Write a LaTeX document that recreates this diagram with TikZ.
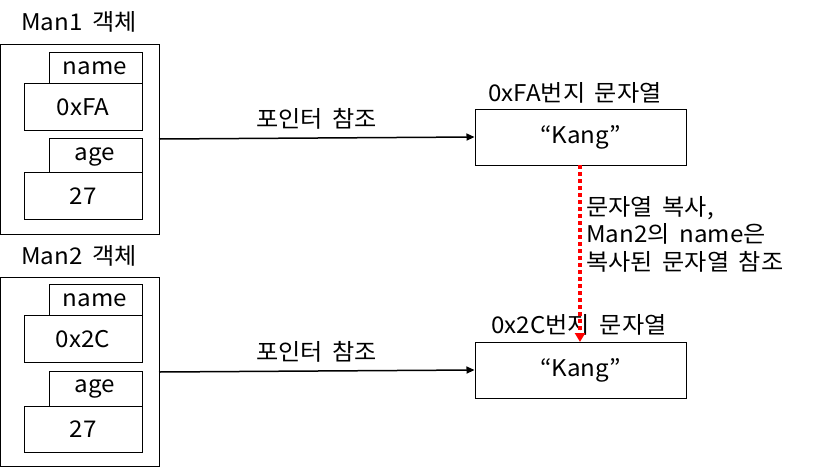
\documentclass[tikz,border=0pt]{standalone}
\usepackage{fontspec}
\setmainfont[FakeStretch=1.05,WordSpace=1.8]{Noto Sans CJK KR}
\usetikzlibrary{arrows.meta}
\begin{document}
\begin{tikzpicture}[x=1pt,y=-1pt,
  box/.style={draw=black,line width=1pt,fill=white},
  lbl/.style={font=\fontsize{23}{27.5}\selectfont,inner sep=0pt},
  ptr/.style={line width=1.5pt,-{Triangle[length=8pt,width=7pt]}},
  copyarrow/.style={draw=red,line width=4pt,dash pattern=on 4pt off 3pt,-{Triangle[length=9pt,width=10pt]}}]
\useasboundingbox (0,0) rectangle (833,467);
% Man1
\node[lbl] (m1l) at (79,22) {Man1 객체};
\draw[box] (0,44) rectangle (159,234);
\coordinate (m1) at (159,139);
\draw[box] (49,52) rectangle (142,83);
\node[lbl] (m1n) at (95,68) {name};
\draw[box] (24,83) rectangle (142,130);
\node[lbl] (m1v) at (83,107) {0xFA};
\draw[box] (49,138) rectangle (142,172);
\node[lbl] (m1a) at (95,157) {age};
\draw[box] (24,172) rectangle (142,219);
\node[lbl] (m1b) at (83,196) {27};
% Man2
\node[lbl] (m2l) at (79,256) {Man2 객체};
\draw[box] (0,277) rectangle (159,466);
\coordinate (m2) at (159,372);
\draw[box] (49,284) rectangle (142,315);
\node[lbl] (m2n) at (95,300) {name};
\draw[box] (24,315) rectangle (142,362);
\node[lbl] (m2v) at (83,339) {0x2C};
\draw[box] (49,371) rectangle (142,406);
\node[lbl] (m2a) at (95,389) {age};
\draw[box] (24,406) rectangle (142,452);
\node[lbl] (m2b) at (83,429) {27};
% strings
\node[box,minimum width=211pt,minimum height=56pt,inner sep=0pt,font=\fontsize{23}{27.5}\selectfont] (s1) at (580.5,137) {“Kang”};
\node[lbl] (s1l) at (575,93) {0xFA번지 문자열};
\node[box,minimum width=211pt,minimum height=56pt,inner sep=0pt,font=\fontsize{23}{27.5}\selectfont] (s2) at (580.5,370) {“Kang”};
\node[lbl] (s2l) at (579,325) {0x2C번지 문자열};
% arrows
\draw[ptr] (m1) -- (s1.west) node[lbl,midway,above=8pt] {포인터 참조};
\draw[ptr] (m2) -- (s2.west) node[lbl,midway,above=8pt] {포인터 참조};
\coordinate (c1) at (580,165);
\coordinate (c2) at (580,342);
\draw[copyarrow] (c1) -- (c2);
\node[lbl,anchor=north west,align=left] (ct) at (586,196) {문자열 복사,\\Man2의 name은\\복사된 문자열 참조};
\end{tikzpicture}
\end{document}
